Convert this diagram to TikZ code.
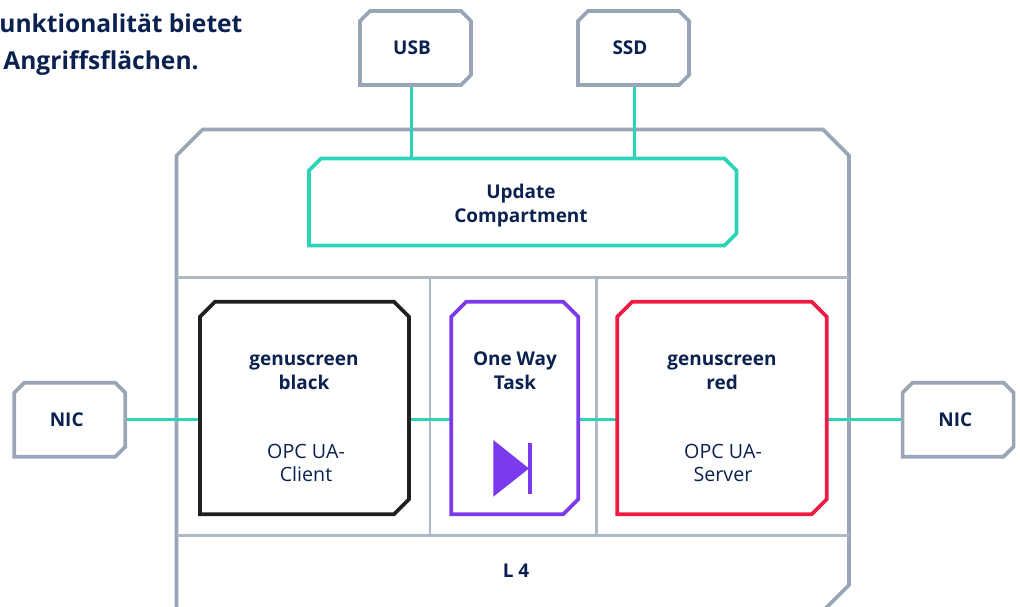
\documentclass[tikz,border=0pt]{standalone}
\usepackage{fontspec}
\setmainfont{Open Sans}
\usepackage{xcolor}
\usetikzlibrary{calc, positioning}
\definecolor{frameGrey}{HTML}{9AA5B5}
\definecolor{cellGrey}{HTML}{AEB9C6}
\definecolor{linkTeal}{HTML}{2BD4B6}
\definecolor{inkNavy}{HTML}{0B2150}
\definecolor{taskPurple}{HTML}{7C3AED}
\definecolor{serverRed}{HTML}{EE1C43}
\definecolor{clientBlack}{HTML}{231F20}
\tikzset{
  slot/.style={rectangle, inner sep=0pt, outer sep=0pt},
  port/.style={slot, minimum width=2.22cm, minimum height=1.48cm},
  compart/.style={slot, minimum height=4.25cm},
  link/.style={draw=linkTeal, line width=1.8pt},
  cell/.style={draw=cellGrey, line width=1.2pt},
  head/.style={text=inkNavy, font=\fontsize{10.8}{13.6}\selectfont\bfseries, align=center},
  plain/.style={text=inkNavy, font=\fontsize{11.2}{13.6}\selectfont, align=center},
  title/.style={text=inkNavy, font=\fontsize{14}{15}\selectfont\bfseries, anchor=base west, inner sep=0pt}
}
% outline of a node with its lower left corner left square
\newcommand{\cutoutline}[3]{
  \draw[#3, line width=2.1pt] (#1.south west) -- ($(#1.south east)+(-#2,0)$) -- ($(#1.south east)+(0,-#2)$)
    -- ($(#1.north east)+(0,#2)$) -- ($(#1.north east)+(-#2,0)$) -- ($(#1.north west)+(#2,0)$)
    -- ($(#1.north west)+(0,#2)$) -- cycle;
}
\begin{document}
\begin{tikzpicture}[x=0.02cm, y=-0.02cm]
  \path[use as bounding box, clip] (0,0) rectangle (1020,607);
  \node[title] (TitleA) at (-1,33) {unktionalität bietet};
  \node[title] (TitleB) at (3,70) {Angriffsflächen.};

  \node[slot, minimum width=13.45cm, minimum height=9.63cm] (Frame) at (512.75,370.25) {};
  \node[port] (USB) at (415.5,48) {};
  \node[port] (SSD) at (633.5,48) {};
  \node[port] (NicL) at (69.75,419.7) {};
  \node[port] (NicR) at (958.1,419.7) {};
  \node[slot, minimum width=8.55cm, minimum height=1.74cm] (Update) at (522.75,202) {};
  \node[compart, minimum width=4.18cm] (Client) at (304.5,408) {};
  \node[compart, minimum width=2.54cm] (Task) at (514.8,408) {};
  \node[compart, minimum width=4.19cm] (Server) at (722,408) {};

  \cutoutline{Frame}{26}{frameGrey}
  \coordinate (RowTop) at (176,277.5);
  \coordinate (RowBot) at (176,535.5);
  \coordinate (ColA) at (430,277.5);
  \coordinate (ColB) at (596.5,277.5);
  \draw[cell] (RowTop -| Frame.west) -- (RowTop -| Frame.east);
  \draw[cell] (RowBot -| Frame.west) -- (RowBot -| Frame.east);
  \draw[cell] (ColA) -- (ColA |- RowBot);
  \draw[cell] (ColB) -- (ColB |- RowBot);

  % connectors
  \coordinate (TapUSB) at (411.7,120);
  \coordinate (TapSSD) at (634.7,120);
  \draw[link] (TapUSB |- USB.south) -- (TapUSB |- Update.north);
  \draw[link] (TapSSD |- SSD.south) -- (TapSSD |- Update.north);
  \draw[link] (NicL.east) -- (NicL.east -| Client.west);
  \draw[link] (NicL.east -| Client.east) -- (NicL.east -| Task.west);
  \draw[link] (NicL.east -| Task.east) -- (NicL.east -| Server.west);
  \draw[link] (NicL.east -| Server.east) -- (NicL.east -| NicR.west);

  \cutoutline{USB}{10}{frameGrey}
  \cutoutline{SSD}{10}{frameGrey}
  \cutoutline{NicL}{10}{frameGrey}
  \cutoutline{NicR}{10}{frameGrey}
  \cutoutline{Update}{12}{linkTeal}
  \cutoutline{Client}{15}{clientBlack}
  \cutoutline{Task}{15}{taskPurple}
  \cutoutline{Server}{15}{serverRed}

  % diode
  \coordinate (DiodeTop) at (493.3,440);
  \coordinate (DiodeBot) at (493.3,496.7);
  \coordinate (DiodeTip) at (529,468.5);
  \fill[taskPurple] (DiodeTop) -- (DiodeBot) -- (DiodeTip) -- cycle;
  \draw[taskPurple, line width=1.8pt] (530,443) -- (530,493.5);

  \node[head] (UsbText) at (412,48) {USB};
  \node[head] (SsdText) at (630,48) {SSD};
  \node[head] (NicLText) at (66.7,420) {NIC};
  \node[head] (NicRText) at (955.3,420) {NIC};
  \node[head] (UpdateText) at (521,206) {Update\\Compartment};
  \node[head] (ClientHead) at (304,372) {genuscreen\\black};
  \node[plain] (ClientText) at (306,463) {OPC UA-\\Client};
  \node[head] (TaskHead) at (515,371) {One Way\\Task};
  \node[head] (ServerHead) at (722,372) {genuscreen\\red};
  \node[plain] (ServerText) at (723,463) {OPC UA-\\Server};
  \node[head] (LevelText) at (516,571) {L 4};
\end{tikzpicture}
\end{document}
